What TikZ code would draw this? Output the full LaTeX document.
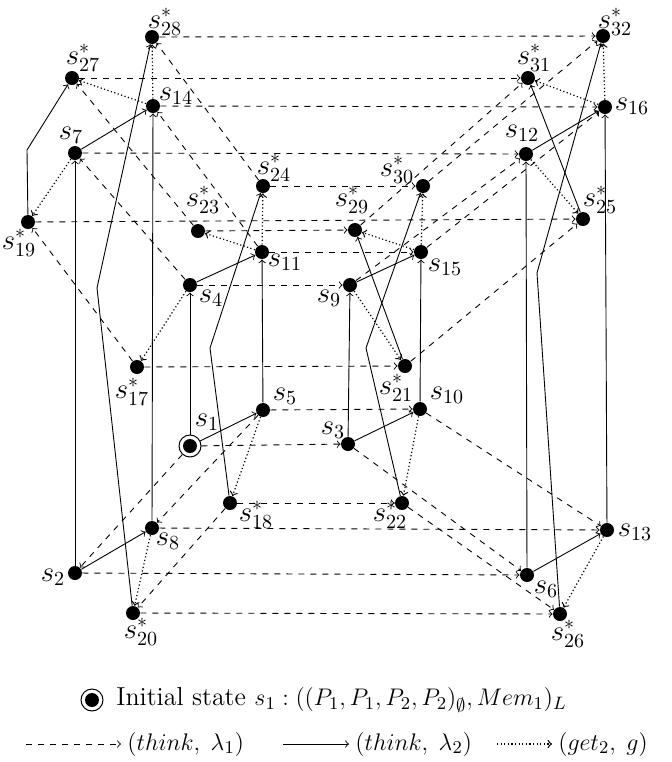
\documentclass[tikz,border=0pt]{standalone}
\usepackage{amssymb}
\begin{document}
\begin{tikzpicture}[x=0.5pt,y=-0.5pt,
  dot/.style={circle,fill=black,inner sep=0pt,minimum size=7pt},
  ring/.style={circle,draw,inner sep=0pt,minimum size=11pt,line width=0.5pt},
  lab/.style={inner sep=0pt,font=\fontsize{14}{16}\selectfont},
  leg/.style={inner sep=0pt,font=\fontsize{13}{15}\selectfont},
  ea/.style={->,dashed,line width=0.45pt},
  eb/.style={->,line width=0.45pt},
  ec/.style={->,dash pattern=on 0.6pt off 1.2pt,line width=0.6pt},
  >=to]
\useasboundingbox (0,0) rectangle (672,762);
% nodes
\node[ring] (s1) at (190,446) {};
\fill (s1.center) circle (3.5pt);
\node[dot] (s2) at (75,573) {};
\node[dot] (s3) at (348,444) {};
\node[dot] (s4) at (190,285) {};
\node[dot] (s5) at (263,410) {};
\node[dot] (s6) at (527,575) {};
\node[dot] (s7) at (75,153) {};
\node[dot] (s8) at (152,528) {};
\node[dot] (s9) at (350,285) {};
\node[dot] (s10) at (420,409) {};
\node[dot] (s11) at (262,252) {};
\node[dot] (s12) at (526,154) {};
\node[dot] (s13) at (607,530) {};
\node[dot] (s14) at (153,106) {};
\node[dot] (s15) at (421,252) {};
\node[dot] (s16) at (605,107) {};
\node[dot] (s17) at (137,367) {};
\node[dot] (s18) at (230,503) {};
\node[dot] (s19) at (28,222) {};
\node[dot] (s20) at (133,613) {};
\node[dot] (s21) at (405,366) {};
\node[dot] (s22) at (402,503) {};
\node[dot] (s23) at (198,231) {};
\node[dot] (s24) at (263,186) {};
\node[dot] (s25) at (583,219) {};
\node[dot] (s26) at (560,614) {};
\node[dot] (s27) at (72,78) {};
\node[dot] (s28) at (152,37) {};
\node[dot] (s29) at (355,230) {};
\node[dot] (s30) at (423,186) {};
\node[dot] (s31) at (528,78) {};
\node[dot] (s32) at (603,36) {};
% labels
\node[lab] (l1) at (207,422) {$s_{1}$};
\node[lab] (l2) at (53,577) {$s_{2}$};
\node[lab] (l3) at (333,430) {$s_{3}$};
\node[lab] (l4) at (211,298) {$s_{4}$};
\node[lab] (l5) at (285,396) {$s_{5}$};
\node[lab] (l6) at (546,589) {$s_{6}$};
\node[lab] (l7) at (71,135) {$s_{7}$};
\node[lab] (l8) at (168,541) {$s_{8}$};
\node[lab] (l9) at (329,298) {$s_{9}$};
\node[lab] (l10) at (447,395) {$s_{10}$};
\node[lab] (l11) at (285,262) {$s_{11}$};
\node[lab] (l12) at (522,133) {$s_{12}$};
\node[lab] (l13) at (635,532) {$s_{13}$};
\node[lab] (l14) at (176,96) {$s_{14}$};
\node[lab] (l15) at (445,267) {$s_{15}$};
\node[lab] (l16) at (632,106) {$s_{16}$};
\node[lab] (l17) at (132,392) {$s^*_{17}$};
\node[lab] (l18) at (256,515) {$s^*_{18}$};
\node[lab] (l19) at (19,243) {$s^*_{19}$};
\node[lab] (l20) at (141,632) {$s^*_{20}$};
\node[lab] (l21) at (396,388) {$s^*_{21}$};
\node[lab] (l22) at (390,515) {$s^*_{22}$};
\node[lab] (l23) at (203,200) {$s^*_{23}$};
\node[lab] (l24) at (274,168) {$s^*_{24}$};
\node[lab] (l25) at (600,200) {$s^*_{25}$};
\node[lab] (l26) at (568,634) {$s^*_{26}$};
\node[lab] (l27) at (83,58) {$s^*_{27}$};
\node[lab] (l28) at (165,22) {$s^*_{28}$};
\node[lab] (l29) at (352,200) {$s^*_{29}$};
\node[lab] (l30) at (397,170) {$s^*_{30}$};
\node[lab] (l31) at (534,58) {$s^*_{31}$};
\node[lab] (l32) at (615,22) {$s^*_{32}$};
% bends
\coordinate (bA) at (27,150);
\coordinate (bB) at (97,288);
\coordinate (bC) at (210,348);
\coordinate (bD) at (366,348);
\coordinate (bE) at (537,273);
% (think, lambda1) horizontal
\draw[ea] (s28) -- (s32);
\draw[ea] (s27) -- (s31);
\draw[ea] (s14) -- (s16);
\draw[ea] (s7) -- (s12);
\draw[ea] (s24) -- (s30);
\draw[ea] (s19) -- (s25);
\draw[ea] (s23) -- (s29);
\draw[ea] (s11) -- (s15);
\draw[ea] (s4) -- (s9);
\draw[ea] (s17) -- (s21);
\draw[ea] (s5) -- (s10);
\draw[ea] (s1) -- (s3);
\draw[ea] (s18) -- (s22);
\draw[ea] (s8) -- (s13);
\draw[ea] (s2) -- (s6);
\draw[ea] (s20) -- (s26);
% (think, lambda1) diagonal
\draw[ea] (s1) -- (s2);
\draw[ea] (s5) -- (s8);
\draw[ea] (s4) -- (s7);
\draw[ea] (s11) -- (s14);
\draw[ea] (s3) -- (s6);
\draw[ea] (s10) -- (s13);
\draw[ea] (s9) -- (s12);
\draw[ea] (s15) -- (s16);
\draw[ea] (s17) -- (s19);
\draw[ea] (s18) -- (s20);
\draw[ea] (s23) -- (s27);
\draw[ea] (s24) -- (s28);
\draw[ea] (s21) -- (s25);
\draw[ea] (s22) -- (s26);
\draw[ea] (s29) -- (s31);
\draw[ea] (s30) -- (s32);
% (think, lambda2)
\draw[eb] (s1) -- (s4);
\draw[eb] (s1) -- (s5);
\draw[eb] (s4) -- (s11);
\draw[eb] (s5) -- (s11);
\draw[eb] (s3) -- (s9);
\draw[eb] (s3) -- (s10);
\draw[eb] (s9) -- (s15);
\draw[eb] (s10) -- (s15);
\draw[eb] (s2) -- (s7);
\draw[eb] (s2) -- (s8);
\draw[eb] (s7) -- (s14);
\draw[eb] (s8) -- (s14);
\draw[eb] (s6) -- (s12);
\draw[eb] (s6) -- (s13);
\draw[eb] (s12) -- (s16);
\draw[eb] (s13) -- (s16);
\draw[eb] (s19) -- (bA) -- (s27);
\draw[eb] (s20) -- (bB) -- (s28);
\draw[eb] (s18) -- (bC) -- (s24);
\draw[eb] (s22) -- (bD) -- (s30);
\draw[eb] (s26) -- (bE) -- (s32);
\draw[eb] (s21) -- (s29);
\draw[eb] (s25) -- (s31);
% (get2, g)
\draw[ec] (s4) -- (s17);
\draw[ec] (s5) -- (s18);
\draw[ec] (s7) -- (s19);
\draw[ec] (s8) -- (s20);
\draw[ec] (s9) -- (s21);
\draw[ec] (s10) -- (s22);
\draw[ec] (s11) -- (s23);
\draw[ec] (s11) -- (s24);
\draw[ec] (s12) -- (s25);
\draw[ec] (s13) -- (s26);
\draw[ec] (s14) -- (s27);
\draw[ec] (s14) -- (s28);
\draw[ec] (s15) -- (s29);
\draw[ec] (s15) -- (s30);
\draw[ec] (s16) -- (s31);
\draw[ec] (s16) -- (s32);
% legend
\node[ring] (li) at (92,700) {};
\fill (li.center) circle (3.5pt);
\node[leg,anchor=west] (lt) at (116,700) {Initial state $s_1:((P_1,P_1,P_2,P_2)_\emptyset,Mem_1)_L$};
\coordinate (da) at (26,744);
\node[leg,anchor=west] (ta) at (127,744) {$(think,\;\lambda_1)$};
\draw[ea] (da) -- ([xshift=-3pt]ta.west);
\coordinate (db) at (283,744);
\node[leg,anchor=west] (tb) at (355,744) {$(think,\;\lambda_2)$};
\draw[eb] (db) -- ([xshift=-3pt]tb.west);
\coordinate (dc) at (497,744);
\node[leg,anchor=west] (tc) at (558,744) {$(get_2,\;g)$};
\draw[ec] (dc) -- ([xshift=-3pt]tc.west);
\end{tikzpicture}
\end{document}
